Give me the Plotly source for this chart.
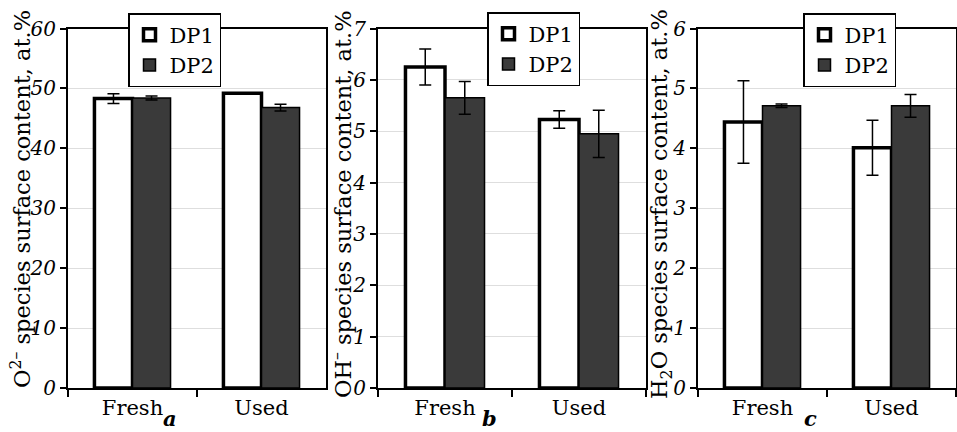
import plotly.graph_objects as go

categories = ["Fresh", "Used"]
series_names = ["DP1", "DP2"]

# panel a: O2- species
a_dp1 = [48.3, 49.2]
a_dp1_err = [0.8, 0.0]
a_dp2 = [48.4, 46.8]
a_dp2_err = [0.35, 0.55]

# panel b: OH- species
b_dp1 = [6.25, 5.23]
b_dp1_err = [0.35, 0.17]
b_dp2 = [5.65, 4.95]
b_dp2_err = [0.32, 0.46]

# panel c: H2O species
c_dp1 = [4.44, 4.01]
c_dp1_err = [0.69, 0.46]
c_dp2 = [4.71, 4.71]
c_dp2_err = [0.03, 0.19]

y_titles = ["O<sup>2–</sup> species surface content, at.%",
            "OH<sup>–</sup> species surface content, at.%",
            "H<sub>2</sub>O species surface content, at.%"]
panel_labels = ["a", "b", "c"]
y_ranges = [[0, 60], [0, 7], [0, 6]]
y_dticks = [10, 1, 1]

W, H = 957, 432
SERIF = "DejaVu Serif, Liberation Serif, serif"
DP2_COLOR = "#3a3a3a"

fig = go.Figure()

panels = [
    (a_dp1, a_dp1_err, a_dp2, a_dp2_err),
    (b_dp1, b_dp1_err, b_dp2, b_dp2_err),
    (c_dp1, c_dp1_err, c_dp2, c_dp2_err),
]
legend_ids = ["legend", "legend2", "legend3"]

for i, (d1, e1, d2, e2) in enumerate(panels):
    ax = "" if i == 0 else str(i + 1)
    fig.add_trace(go.Bar(
        x=categories, y=d1, name=series_names[0],
        xaxis="x" + ax, yaxis="y" + ax, legend=legend_ids[i],
        marker=dict(color="white", line=dict(color="black", width=3.5)),
        error_y=dict(type="data", array=e1, color="black", thickness=1.5, width=6),
    ))
    fig.add_trace(go.Bar(
        x=categories, y=d2, name=series_names[1],
        xaxis="x" + ax, yaxis="y" + ax, legend=legend_ids[i],
        marker=dict(color=DP2_COLOR, line=dict(color="black", width=1.5)),
        error_y=dict(type="data", array=e2, color="black", thickness=1.5, width=6),
    ))

# pixel geometry
x_domains = [(68, 326), (378, 646), (698, 956)]
y_top, y_bot = 28.5, 388

def px_x(p):
    return p / W

def px_y(p):
    return 1 - p / H

layout = dict(
    width=W, height=H,
    margin=dict(l=0, r=0, t=0, b=0),
    paper_bgcolor="white", plot_bgcolor="white",
    barmode="group", bargap=0.41, bargroupgap=0.0,
    font=dict(family=SERIF, color="black", size=20),
)

for i in range(3):
    ax = "" if i == 0 else str(i + 1)
    x0, x1 = x_domains[i]
    layout["xaxis" + ax] = dict(
        domain=[px_x(x0), px_x(x1)], anchor="y" + ax,
        showline=True, linecolor="black", linewidth=2, mirror=True,
        ticks="outside", tickson="boundaries", ticklen=7, tickwidth=2, tickcolor="black",
        tickfont=dict(family=SERIF, size=21, color="black"),
        showgrid=False, automargin=False, fixedrange=True,
    )
    layout["yaxis" + ax] = dict(
        domain=[px_y(y_bot), px_y(y_top)], anchor="x" + ax,
        range=y_ranges[i], dtick=y_dticks[i], tick0=0,
        showline=True, linecolor="black", linewidth=2, mirror=True,
        ticks="outside", ticklen=6, tickwidth=1.5, tickcolor="black",
        tickfont=dict(family=SERIF, size=20, color="black", style="italic"),
        showgrid=True, gridcolor="#dedede", gridwidth=1,
        zeroline=False, automargin=False, fixedrange=True,
    )

legend_pos = [(128, 13), (487, 12), (803, 13)]
for i, lid in enumerate(legend_ids):
    lx, ly = legend_pos[i]
    layout[lid] = dict(
        x=px_x(lx), y=px_y(ly), xanchor="left", yanchor="top",
        bgcolor="white", bordercolor="black", borderwidth=1.5,
        font=dict(family=SERIF, size=21, color="black"),
        itemwidth=30, tracegroupgap=6,
    )

annotations = []
title_pos = [(20, 199), (341, 204), (661, 204)]
for i in range(3):
    tx, ty = title_pos[i]
    annotations.append(dict(
        text=y_titles[i], x=px_x(tx), y=px_y(ty), xref="paper", yref="paper",
        xanchor="center", yanchor="middle", textangle=-90, showarrow=False,
        font=dict(family=SERIF, size=22.5, color="black"),
    ))
label_x = [170, 490, 810]
for i in range(3):
    annotations.append(dict(
        text="<b>" + panel_labels[i] + "</b>", x=px_x(label_x[i]), y=px_y(418),
        xref="paper", yref="paper", xanchor="center", yanchor="middle",
        showarrow=False, font=dict(family=SERIF, size=21, color="black", style="italic"),
    ))
layout["annotations"] = annotations
layout["showlegend"] = True

fig.update_layout(**layout)
fig.write_html(
    "out.html",
    config={"displayModeBar": False},
    post_script="document.body.style.margin='0';document.body.style.overflow='hidden';",
)
